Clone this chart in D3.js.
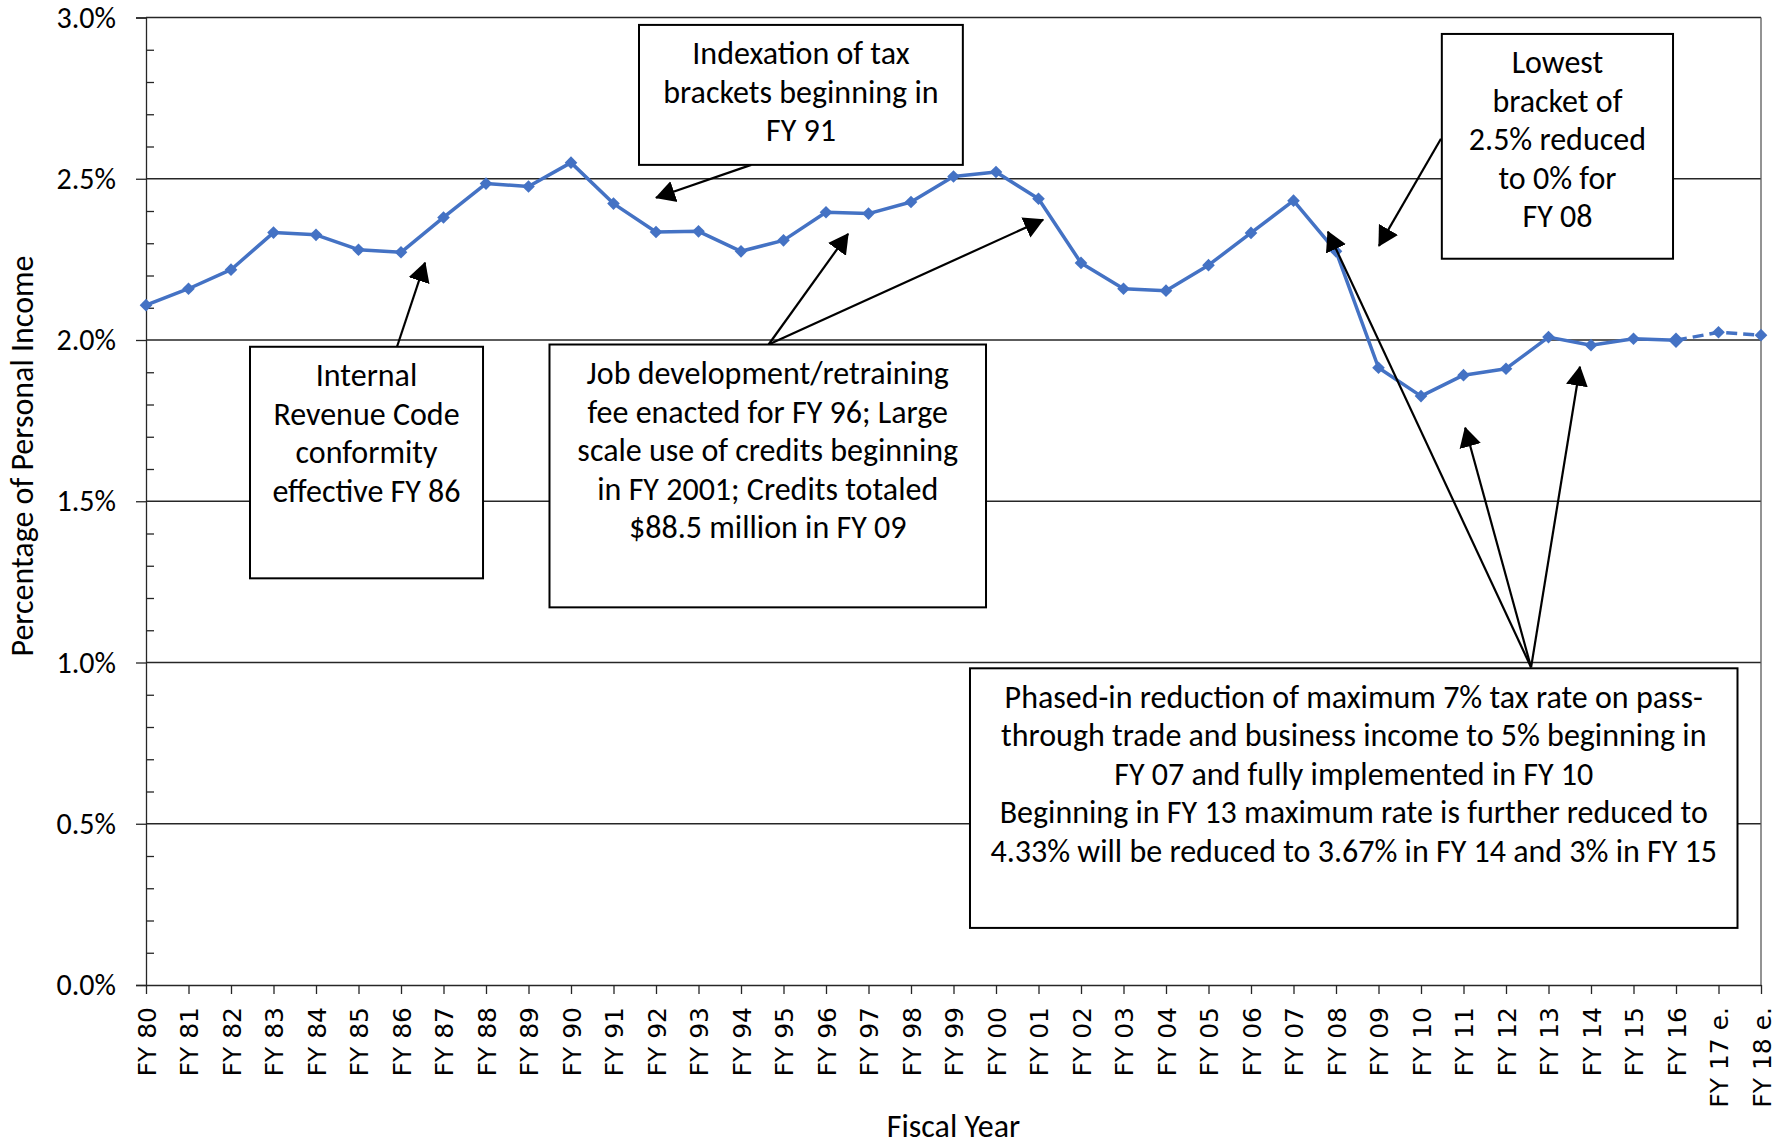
<!DOCTYPE html>
<html lang="en">
<head>
<meta charset="utf-8">
<title>Percentage of Personal Income by Fiscal Year</title>
<script src="https://cdn.jsdelivr.net/npm/d3@7/dist/d3.min.js"></script>
<style>
body { margin: 0; background: #fff; }
svg { display: block; font-family: Calibri, Carlito, Lato, sans-serif; }
.grid line { stroke: #262626; stroke-width: 1.3px; }
.axis path, .axis line { stroke: #262626; stroke-width: 1.3px; }
.y.axis text { font-family: Calibri, Carlito, Lato, sans-serif; font-size: 30px; fill: #000; }
.x.axis text { font-family: "DejaVu Sans", sans-serif; font-size: 25px; fill: #000; }
.note rect { fill: #fff; stroke: #000; stroke-width: 2px; }
.note text { font-size: 32px; fill: #000; text-anchor: middle; }
.arrow { stroke: #000; stroke-width: 2.2px; fill: none; }
.title { font-size: 32px; fill: #000; }
</style>
</head>
<body>
<div id="chart"></div>
<script>
// fiscal years on the category axis
var years = ["FY 80", "FY 81", "FY 82", "FY 83", "FY 84", "FY 85", "FY 86", "FY 87", "FY 88", "FY 89",
             "FY 90", "FY 91", "FY 92", "FY 93", "FY 94", "FY 95", "FY 96", "FY 97", "FY 98", "FY 99",
             "FY 00", "FY 01", "FY 02", "FY 03", "FY 04", "FY 05", "FY 06", "FY 07", "FY 08", "FY 09",
             "FY 10", "FY 11", "FY 12", "FY 13", "FY 14", "FY 15", "FY 16", "FY 17 e.", "FY 18 e."];

// share of personal income, in percent
var shares = [2.108, 2.159, 2.218, 2.333, 2.326, 2.280, 2.272, 2.380, 2.485, 2.476,
              2.550, 2.423, 2.335, 2.337, 2.275, 2.309, 2.396, 2.392, 2.428, 2.507,
              2.521, 2.438, 2.239, 2.159, 2.153, 2.232, 2.332, 2.432, 2.275, 1.914,
              1.826, 1.891, 1.911, 2.009, 1.984, 2.004, 1.999, 2.024, 2.015];

// last actual year, estimates are drawn dashed from here
var lastActual = "FY 16";

var yTicks = [0, 0.5, 1.0, 1.5, 2.0, 2.5, 3.0];
var yMinor = [0.1, 0.2, 0.3, 0.4, 0.6, 0.7, 0.8, 0.9, 1.1, 1.2, 1.3, 1.4, 1.6, 1.7, 1.8, 1.9,
              2.1, 2.2, 2.3, 2.4, 2.6, 2.7, 2.8, 2.9];

// text boxes: x in year positions, y in percent
var notes = [
  { x0: 11.6, x1: 19.22, y0: 2.977, y1: 2.543,
    lines: ["Indexation of tax", "brackets beginning in", "FY 91"] },
  { x0: 30.49, x1: 35.93, y0: 2.949, y1: 2.252,
    lines: ["Lowest", "bracket of", "2.5% reduced", "to 0% for", "FY 08"] },
  { x0: 2.447, x1: 7.93, y0: 1.979, y1: 1.261,
    lines: ["Internal", "Revenue Code", "conformity", "effective FY 86"] },
  { x0: 9.494, x1: 19.765, y0: 1.986, y1: 1.171,
    lines: ["Job development/retraining", "fee enacted for FY 96; Large", "scale use of credits beginning",
            "in FY 2001; Credits totaled", "$88.5 million in FY 09"] },
  { x0: 19.388, x1: 37.447, y0: 0.982, y1: 0.177,
    lines: ["Phased-in reduction of maximum 7% tax rate on pass-", "through trade and business income to 5% beginning in",
            "FY 07 and fully implemented in FY 10", "Beginning in FY 13 maximum rate is further reduced to",
            "4.33% will be reduced to 3.67% in FY 14 and 3% in FY 15"] }
];

// arrows: from [x, y] to [x, y], same units as the boxes
var arrows = [
  [[14.24, 2.543], [12.0, 2.441]],
  [[30.47, 2.624], [29.01, 2.292]],
  [[5.906, 1.979], [6.565, 2.240]],
  [[14.65, 1.986], [16.52, 2.329]],
  [[14.65, 1.986], [21.11, 2.373]],
  [[32.59, 0.985], [27.81, 2.336]],
  [[32.59, 0.985], [31.04, 1.728]],
  [[32.59, 0.985], [33.74, 1.917]]
];

var width = 1789, height = 1145;
var margin = {top: 17.5, right: 28, bottom: 160, left: 146};
var w = width - margin.left - margin.right,
    h = height - margin.top - margin.bottom;

var data = years.map(function(d, i) { return {year: d, value: shares[i], i: i}; });
var cut = years.indexOf(lastActual);

var x = d3.scalePoint().domain(years).range([0, w]);
var xi = d3.scaleLinear().domain([0, years.length - 1]).range([0, w]);
var y = d3.scaleLinear().domain([0, 3]).range([h, 0]);

var svg = d3.select("#chart").append("svg")
    .attr("width", width)
    .attr("height", height)
  .append("g")
    .attr("transform", "translate(" + margin.left + "," + margin.top + ")");

svg.append("defs").append("marker")
    .attr("id", "head")
    .attr("markerUnits", "userSpaceOnUse")
    .attr("viewBox", "0 -12 20 24")
    .attr("refX", 19)
    .attr("refY", 0)
    .attr("markerWidth", 20)
    .attr("markerHeight", 24)
    .attr("orient", "auto")
  .append("path")
    .attr("d", "M0,-11L20,0L0,11Z")
    .attr("fill", "#000");

// gridlines
svg.append("g").attr("class", "grid")
  .selectAll("line")
  .data(yTicks.filter(function(d) { return d > 0; }))
  .enter().append("line")
    .attr("x1", 0).attr("x2", w)
    .attr("y1", function(d) { return y(d); })
    .attr("y2", function(d) { return y(d); });

svg.append("line")
    .attr("x1", w).attr("x2", w)
    .attr("y1", 0).attr("y2", h)
    .attr("stroke", "#595959").attr("stroke-width", 1.3);

// axes
svg.append("g")
    .attr("class", "y axis")
    .call(d3.axisLeft(y).tickValues(yTicks).tickSize(10).tickPadding(20)
      .tickFormat(function(d) { return d.toFixed(1) + "%"; }));

svg.append("g")
    .attr("class", "y axis minor")
    .call(d3.axisRight(y).tickValues(yMinor).tickSize(8).tickFormat(""))
    .select(".domain").remove();

var xAxis = svg.append("g")
    .attr("class", "x axis")
    .attr("transform", "translate(0," + h + ")")
    .call(d3.axisBottom(x).tickSize(9).tickSizeOuter(0));

xAxis.selectAll("text")
    .attr("transform", "rotate(-90)")
    .attr("x", -22)
    .attr("y", 0)
    .attr("dy", "0.36em")
    .attr("text-anchor", "end");

svg.append("text")
    .attr("class", "title")
    .attr("text-anchor", "middle")
    .attr("transform", "translate(" + (33 - margin.left) + "," + (456 - margin.top) + ")rotate(-90)")
    .text("Percentage of Personal Income");

svg.append("text")
    .attr("class", "title")
    .attr("text-anchor", "middle")
    .attr("x", w / 2)
    .attr("y", 1137 - margin.top)
    .text("Fiscal Year");

// series
var line = d3.line()
    .x(function(d) { return x(d.year); })
    .y(function(d) { return y(d.value); });

svg.append("path")
    .datum(data.slice(0, cut + 1))
    .attr("d", line)
    .attr("fill", "none")
    .attr("stroke", "#4472C4")
    .attr("stroke-width", 3.5)
    .attr("stroke-linejoin", "round");

svg.append("path")
    .datum(data.slice(cut))
    .attr("d", line)
    .attr("fill", "none")
    .attr("stroke", "#4472C4")
    .attr("stroke-width", 3.5)
    .attr("stroke-dasharray", "11,6");

svg.append("g").selectAll("path")
  .data(data)
  .enter().append("path")
    .attr("d", function(d) {
      return d3.symbol().type(d3.symbolSquare).size(d.i === cut ? 120 : 80)();
    })
    .attr("transform", function(d) {
      return "translate(" + x(d.year) + "," + y(d.value) + ")rotate(45)";
    })
    .attr("fill", "#4472C4");

// arrows
svg.append("g").selectAll("line")
  .data(arrows)
  .enter().append("line")
    .attr("class", "arrow")
    .attr("x1", function(d) { return xi(d[0][0]); })
    .attr("y1", function(d) { return y(d[0][1]); })
    .attr("x2", function(d) { return xi(d[1][0]); })
    .attr("y2", function(d) { return y(d[1][1]); })
    .attr("marker-end", "url(#head)");

// text boxes
var note = svg.append("g").selectAll("g")
  .data(notes)
  .enter().append("g")
    .attr("class", "note");

note.append("rect")
    .attr("x", function(d) { return xi(d.x0); })
    .attr("y", function(d) { return y(d.y0); })
    .attr("width", function(d) { return xi(d.x1) - xi(d.x0); })
    .attr("height", function(d) { return y(d.y1) - y(d.y0); });

note.each(function(d) {
  var g = d3.select(this),
      cx = (xi(d.x0) + xi(d.x1)) / 2,
      top = y(d.y0);
  g.selectAll("text")
    .data(d.lines)
    .enter().append("text")
      .attr("x", cx)
      .attr("y", function(t, k) { return top + 39.5 + k * 38.5; })
      .text(function(t) { return t; });
});
</script>
</body>
</html>
